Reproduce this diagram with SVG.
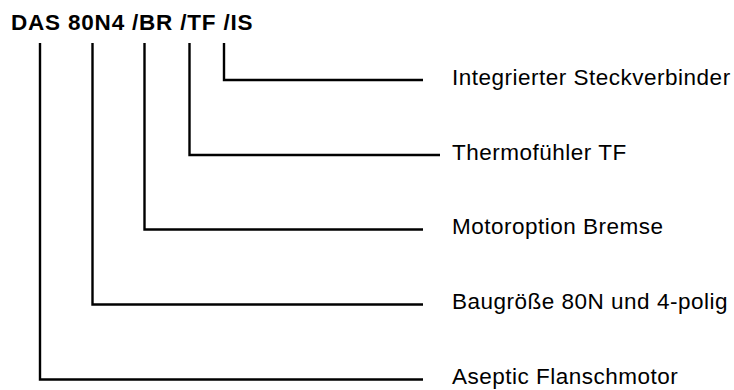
<svg xmlns="http://www.w3.org/2000/svg" width="734" height="390" viewBox="0 0 734 390">
<style>
.t{font-family:"Liberation Sans",Arial,sans-serif;font-size:22.5px;letter-spacing:0.5px;fill:#000}
.h{font-weight:bold;letter-spacing:0.8px}
.c{fill:none;stroke:#000;stroke-width:2.4;stroke-linejoin:miter;stroke-linecap:butt}
</style>
<rect width="734" height="390" fill="#fff"/>
<g id="header"><text class="t h" x="11" y="30">DAS 80N4 /BR /TF /IS</text></g>
<g id="connectors">
<path class="c" d="M224,43 V80 H423"/>
<path class="c" d="M189.5,43 V155 H440"/>
<path class="c" d="M144.5,43 V229.5 H423"/>
<path class="c" d="M92.5,43 V304.5 H423"/>
<path class="c" d="M40,43 V379.5 H423"/>
</g>
<g id="n-is"><text class="t" x="452" y="85">Integrierter Steckverbinder</text></g>
<g id="n-tf"><text class="t" x="452" y="159.5">Thermofühler TF</text></g>
<g id="n-br"><text class="t" x="452" y="234">Motoroption Bremse</text></g>
<g id="n-size"><text class="t" x="452" y="309">Baugröße 80N und 4-polig</text></g>
<g id="n-das"><text class="t" x="452" y="384">Aseptic Flanschmotor</text></g>
</svg>
